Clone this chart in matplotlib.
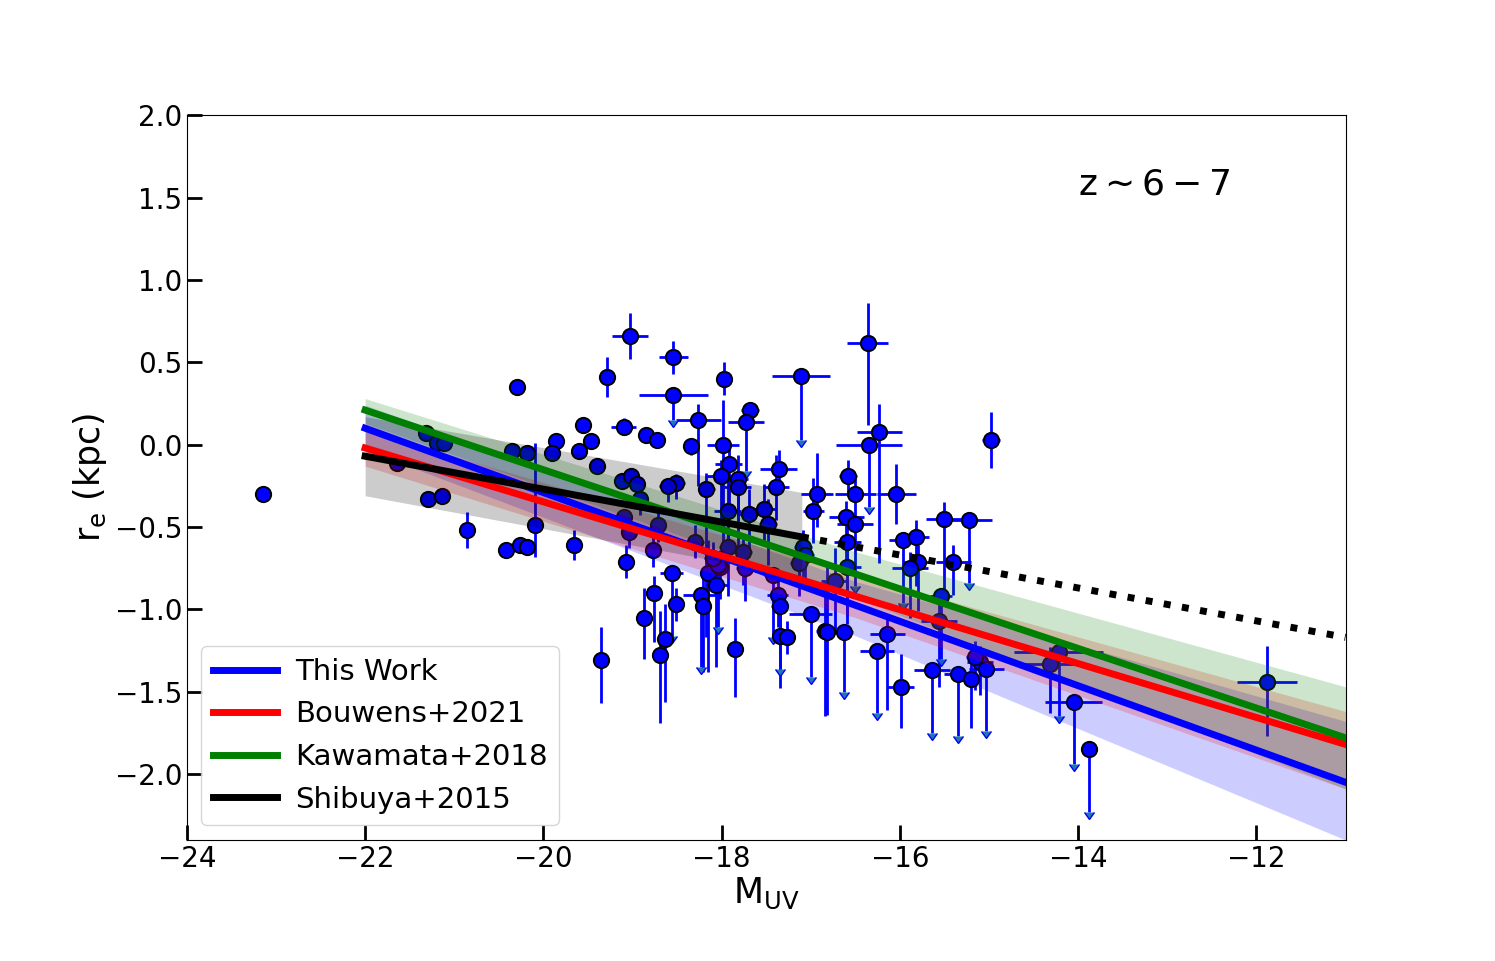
import numpy as np
import matplotlib
matplotlib.use('Agg')
import matplotlib.pyplot as plt

M_uv = [-23.15, -21.64, -21.32, -21.19, -21.12, -21.30, -21.14, -20.86, -20.42, -20.26,
        -20.18, -20.09, -20.30, -20.35, -20.18, -19.86, -19.90, -19.60, -19.56, -19.66,
        -19.47, -19.40,
        -19.03, -18.54, -18.54, -19.29, -17.97, -17.11, -18.26, -17.68, -17.73, -19.10,
        -18.85, -18.73, -18.34, -17.98, -17.92, -18.01, -17.82, -17.82, -17.36, -17.39,
        -18.17, -18.51, -18.60, -19.12, -19.02, -18.95, -17.69, -17.52, -17.93, -16.93,
        -16.97, -17.48, -18.92, -19.07, -18.77, -19.04, -18.71, -19.10, -18.56, -18.76,
        -18.51, -18.87, -18.63, -18.69, -19.35, -18.23, -18.21, -18.15, -18.06, -18.02,
        -17.85, -17.37, -17.35, -17.35, -17.27, -17.00, -16.84, -17.09, -17.06, -17.13,
        -17.93, -17.76, -18.30, -18.04, -18.10, -17.42, -17.74, -16.73,
        -16.36, -16.23, -16.35, -14.98, -16.58, -16.50, -16.04, -16.60, -16.50, -15.51,
        -15.22, -15.97, -15.82, -16.59, -15.40, -15.80, -15.89, -16.59, -15.54, -15.56,
        -16.82, -16.63, -16.14, -16.26, -15.99, -15.64, -15.35, -15.20, -15.10, -15.03,
        -15.16, -14.31, -14.22, -14.05, -13.88, -11.88]
log_re = [-0.30, -0.11, 0.07, 0.01, 0.01, -0.33, -0.31, -0.52, -0.64, -0.61,
          -0.62, -0.49, 0.35, -0.04, -0.05, 0.02, -0.05, -0.04, 0.12, -0.61,
          0.02, -0.13,
          0.66, 0.53, 0.30, 0.41, 0.40, 0.42, 0.15, 0.21, 0.14, 0.11,
          0.06, 0.03, -0.01, 0.00, -0.12, -0.19, -0.21, -0.26, -0.15, -0.26,
          -0.27, -0.23, -0.25, -0.22, -0.19, -0.24, -0.42, -0.39, -0.40, -0.30,
          -0.40, -0.48, -0.33, -0.71, -0.64, -0.53, -0.49, -0.44, -0.78, -0.90,
          -0.97, -1.05, -1.18, -1.28, -1.31, -0.91, -0.98, -0.78, -0.85, -0.74,
          -1.24, -0.91, -0.98, -1.16, -1.17, -1.03, -1.13, -0.62, -0.67, -0.72,
          -0.62, -0.65, -0.59, -0.73, -0.69, -0.79, -0.75, -0.83,
          0.62, 0.08, 0.00, 0.03, -0.19, -0.30, -0.30, -0.44, -0.48, -0.45,
          -0.46, -0.58, -0.56, -0.59, -0.71, -0.71, -0.75, -0.74, -0.92, -1.07,
          -1.14, -1.14, -1.15, -1.25, -1.47, -1.37, -1.39, -1.42, -1.32, -1.36,
          -1.29, -1.33, -1.26, -1.56, -1.85, -1.44]
M_err = [0, 0, 0, 0, 0, 0, 0, 0, 0, 0,
         0, 0, 0, 0, 0, 0, 0, 0, 0, 0,
         0, 0,
         0.20, 0.16, 0.39, 0, 0.05, 0.33, 0.25, 0.10, 0.20, 0.14,
         0.05, 0.05, 0.05, 0.18, 0.15, 0.15, 0.12, 0.15, 0.21, 0.15,
         0.10, 0.10, 0.10, 0.05, 0.08, 0.05, 0.12, 0.12, 0.15, 0.18,
         0.12, 0.10, 0.05, 0.05, 0.08, 0.05, 0.05, 0.05, 0.13, 0.08,
         0.08, 0, 0, 0, 0, 0.20, 0.08, 0.08, 0.13, 0.10,
         0.08, 0.12, 0.10, 0.05, 0.05, 0.24, 0.10, 0.10, 0.10, 0.10,
         0.10, 0.10, 0.10, 0.10, 0.10, 0.10, 0.10, 0.15,
         0.23, 0.25, 0.37, 0.10, 0.10, 0.23, 0.22, 0.20, 0.20, 0.20,
         0.25, 0.15, 0.15, 0.15, 0.20, 0.15, 0.20, 0.15, 0.12, 0.20,
         0.10, 0.10, 0.20, 0.19, 0.15, 0.20, 0.15, 0.10, 0.15, 0.20,
         0.10, 0.40, 0.50, 0.32, 0, 0.34]
re_err_lo = [0, 0, 0, 0, 0, 0, 0, 0.11, 0, 0,
             0, 0.19, 0, 0, 0, 0, 0, 0, 0.05, 0.09,
             0.04, 0.05,
             0.14, 0.10, 0.15, 0.12, 0.10, 0.39, 0.40, 0.10, 0.30, 0.05,
             0.05, 0.05, 0.05, 0.60, 0.30, 0.30, 0.30, 0.38, 0.12, 0.20,
             0.90, 0.10, 0.10, 0.05, 0.05, 0.05, 0.25, 0.20, 0.30, 0.20,
             0.20, 0.25, 0.10, 0.10, 0.10, 0.10, 0.10, 0.05, 0.38, 0.30,
             0.10, 0.25, 0.38, 0.41, 0.26, 0.44, 0.40, 0.60, 0.50, 0.20,
             0.29, 0.20, 0.38, 0.32, 0.10, 0.38, 0.52, 0.20, 0.20, 0.20,
             0.30, 0.20, 0.10, 0.38, 0.20, 0.38, 0.20, 0.30,
             0.50, 0.80, 0.38, 0.17, 0.10, 0.20, 0.18, 0.30, 0.38, 0.50,
             0.38, 0.38, 0.30, 0.50, 0.20, 0.30, 0.30, 0.30, 0.38, 0.40,
             0.50, 0.36, 0.46, 0.38, 0.25, 0.38, 0.38, 0.30, 0.20, 0.38,
             0.20, 0.30, 0.39, 0.38, 0.38, 0.33]
re_err_hi = [0, 0, 0, 0, 0, 0, 0, 0.11, 0, 0,
             0, 0.50, 0, 0, 0, 0, 0, 0, 0.05, 0.09,
             0.04, 0.05,
             0.14, 0.10, 0, 0.12, 0.10, 0, 0.10, 0.05, 0, 0.05,
             0.05, 0.05, 0.05, 0.27, 0.10, 0.10, 0.15, 0, 0.12, 0.20,
             0.10, 0.05, 0.05, 0.05, 0.05, 0.05, 0.15, 0.15, 0.20, 0.25,
             0.20, 0.15, 0.10, 0.10, 0.10, 0.10, 0.10, 0.05, 0, 0.10,
             0.10, 0.18, 0.21, 0.27, 0.20, 0, 0.20, 0.20, 0.15, 0.10,
             0.19, 0.10, 0, 0.20, 0.10, 0, 0.30, 0.10, 0.10, 0.10,
             0.10, 0.10, 0.10, 0, 0.10, 0, 0.10, 0.20,
             0.24, 0.17, 0, 0.17, 0.10, 0.10, 0.18, 0.10, 0, 0.10,
             0, 0, 0.10, 0.15, 0.10, 0.10, 0.10, 0.10, 0, 0.10,
             0.40, 0, 0.10, 0, 0.20, 0, 0, 0.20, 0.10, 0,
             0.10, 0.10, 0, 0, 0, 0.22]
upper_limit = [0, 0, 0, 0, 0, 0, 0, 0, 0, 0,
               0, 0, 0, 0, 0, 0, 0, 0, 0, 0,
               0, 0,
               0, 0, 1, 0, 0, 1, 0, 0, 1, 0,
               0, 0, 0, 0, 0, 0, 0, 1, 0, 0,
               0, 0, 0, 0, 0, 0, 0, 0, 0, 0,
               0, 0, 0, 0, 0, 0, 0, 0, 1, 0,
               0, 0, 0, 0, 0, 1, 0, 0, 0, 0,
               0, 0, 1, 0, 0, 1, 0, 0, 0, 0,
               0, 0, 0, 1, 0, 1, 0, 0,
               0, 0, 1, 0, 0, 0, 0, 0, 1, 0,
               1, 1, 0, 0, 0, 0, 0, 0, 1, 0,
               0, 1, 0, 1, 0, 1, 1, 0, 0, 1,
               0, 0, 1, 1, 1, 0]

# size-luminosity relations (values at the ends of the fitted range)
fit_M = [-22, -11]
this_work = [0.10, -2.05]
bouwens = [-0.02, -1.82]
kawamata = [0.21, -1.78]
shibuya_M = [-22, -17.1]
shibuya = [-0.07, -0.56]
shibuya_ext_M = [-17.1, -11]
shibuya_ext = [-0.56, -1.17]

# 1-sigma bands
band_M = [-22, -16.5, -11]
this_work_lo = [-0.03, -1.16, -2.40]
this_work_hi = [0.24, -0.83, -1.68]
bouwens_lo = [-0.13, -1.05, -2.09]
bouwens_hi = [0.09, -0.79, -1.62]
kawamata_lo = [0.13, -0.93, -2.09]
kawamata_hi = [0.28, -0.65, -1.47]
shibuya_lo = [-0.31, -0.80]
shibuya_hi = [0.17, -0.29]

M = np.array(M_uv)
re = np.array(log_re)
mer = np.array(M_err)
lo = np.array(re_err_lo)
hi = np.array(re_err_hi)
lim = np.array(upper_limit, dtype=bool)

fig, ax = plt.subplots(figsize=(14.95, 9.61), dpi=100)
fig.subplots_adjust(left=0.125, right=0.9, bottom=0.126, top=0.88)

# error bars: normal ones first, then the upper limits with arrows
ax.errorbar(M, re, xerr=mer, yerr=[np.where(lim, 0, lo), np.where(lim, 0, hi)],
            fmt='none', ecolor='blue', elinewidth=2, capsize=0, zorder=1)
ax.errorbar(M[lim], re[lim], yerr=lo[lim], uplims=True, fmt='none',
            ecolor='blue', elinewidth=2, capsize=3.5, zorder=1)
ax.plot(M, re, 'o', ms=11, mfc='blue', mec='black', mew=1.4, zorder=2)

# bands
ax.fill_between(band_M, this_work_lo, this_work_hi, color='blue', alpha=0.2, lw=0, zorder=3)
ax.fill_between(band_M, bouwens_lo, bouwens_hi, color='red', alpha=0.2, lw=0, zorder=3)
ax.fill_between(band_M, kawamata_lo, kawamata_hi, color='green', alpha=0.2, lw=0, zorder=3)
ax.fill_between(shibuya_M, shibuya_lo, shibuya_hi, color='black', alpha=0.2, lw=0, zorder=3)

# relations
ax.plot(fit_M, this_work, color='blue', lw=5, label='This Work', zorder=4)
ax.plot(fit_M, bouwens, color='red', lw=5, label='Bouwens+2021', zorder=4)
ax.plot(fit_M, kawamata, color='green', lw=5, label='Kawamata+2018', zorder=4)
ax.plot(shibuya_M, shibuya, color='black', lw=5, label='Shibuya+2015', zorder=4)
ax.plot(shibuya_ext_M, shibuya_ext, color='black', lw=5, ls=':', zorder=4)

ax.text(-14, 1.58, r'$\mathrm{z \sim 6 - 7}$', fontsize=26, va='center')

ax.set_xlim(-24, -11)
ax.set_ylim(-2.4, 2.0)
ax.set_xticks([-24, -22, -20, -18, -16, -14, -12])
ax.set_yticks([2.0, 1.5, 1.0, 0.5, 0.0, -0.5, -1.0, -1.5, -2.0])
ax.tick_params(direction='in', length=11, width=2, labelsize=20, top=False, right=False)
ax.set_xlabel(r'$\mathrm{M_{UV}}$', fontsize=25, labelpad=2)
ax.set_ylabel(r'$\mathrm{r_e}$ (kpc)', fontsize=25)

ax.legend(loc='lower left', fontsize=21, handlelength=2.2, handletextpad=0.6)

fig.savefig('out.png', dpi=100)
